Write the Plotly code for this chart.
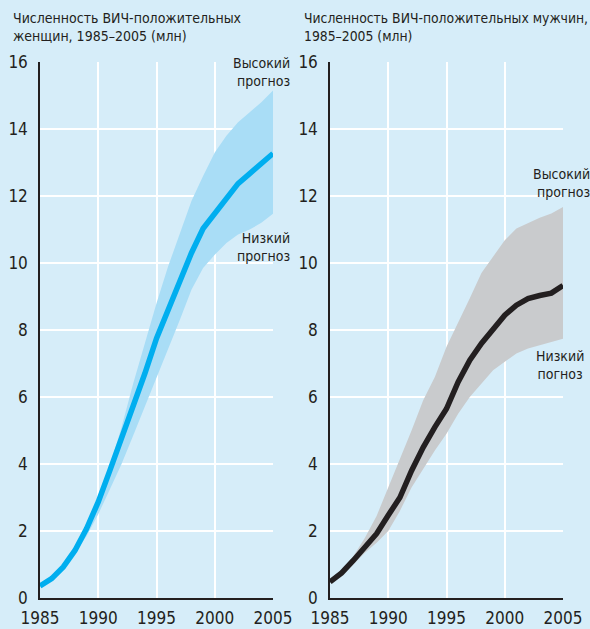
import plotly.graph_objects as go

years = list(range(1985, 2006))

women_mid = [0.36, 0.58, 0.93, 1.42, 2.07, 2.87, 3.81, 4.74, 5.66, 6.7, 7.75,
             8.6, 9.5, 10.3, 11.03, 11.47, 11.93, 12.37, 12.67, 12.97, 13.27]
women_high = [0.4, 0.62, 1.0, 1.55, 2.15, 3.0, 3.95, 5.1, 6.4, 7.6, 8.8,
              9.9, 10.9, 11.85, 12.6, 13.3, 13.8, 14.2, 14.5, 14.8, 15.15]
women_low = [0.34, 0.55, 0.88, 1.32, 1.85, 2.5, 3.25, 4.0, 4.85, 5.7, 6.55,
             7.45, 8.3, 9.2, 9.85, 10.25, 10.6, 10.85, 11.0, 11.2, 11.47]

men_mid = [0.48, 0.75, 1.12, 1.52, 1.92, 2.47, 3.0, 3.8, 4.5, 5.1, 5.65,
           6.45, 7.1, 7.6, 8.05, 8.44, 8.74, 8.94, 9.03, 9.1, 9.33]
men_high = [0.5, 0.82, 1.25, 1.8, 2.45, 3.3, 4.1, 5.0, 5.9, 6.6, 7.5,
            8.2, 8.95, 9.7, 10.2, 10.68, 11.03, 11.2, 11.35, 11.48, 11.67]
men_low = [0.45, 0.68, 1.0, 1.35, 1.65, 2.0, 2.6, 3.3, 3.85, 4.4, 4.9,
           5.5, 6.0, 6.4, 6.8, 7.05, 7.3, 7.45, 7.55, 7.65, 7.74]

x_ticks = [1985, 1990, 1995, 2000, 2005]
y_ticks = [0, 2, 4, 6, 8, 10, 12, 14, 16]

title_women = "Численность ВИЧ-положительных<br>женщин, 1985–2005 (млн)"
title_men = "Численность ВИЧ-положительных мужчин,<br>1985–2005 (млн)"
label_high = "Высокий<br>прогноз"
label_low_w = "Низкий<br>прогноз"
label_low_m = "Низкий<br>погноз"

BG = "#d6edf9"
TXT = "#231f20"
FONT = "DejaVu Sans Condensed, Liberation Sans Narrow, sans-serif"

W, H = 590, 629

fig = go.Figure()

def band(xa, ya, low, high, fillcol):
    fig.add_trace(go.Scatter(x=years, y=low, xaxis=xa, yaxis=ya, mode="lines",
                             line=dict(width=0, color=fillcol), hoverinfo="skip",
                             showlegend=False))
    fig.add_trace(go.Scatter(x=years, y=high, xaxis=xa, yaxis=ya, mode="lines",
                             line=dict(width=0, color=fillcol), fill="tonexty",
                             fillcolor=fillcol, hoverinfo="skip", showlegend=False))

band("x", "y", women_low, women_high, "#a9ddf6")
fig.add_trace(go.Scatter(x=years, y=women_mid, xaxis="x", yaxis="y", mode="lines",
                         line=dict(width=5.5, color="#00aeef"), showlegend=False))
band("x2", "y2", men_low, men_high, "#c9cbcd")
fig.add_trace(go.Scatter(x=years, y=men_mid, xaxis="x2", yaxis="y2", mode="lines",
                         line=dict(width=5.5, color="#231f20"), showlegend=False))

ydom = [(H - 598) / H, (H - 62) / H]
xdom1 = [40 / W, 273 / W]
xdom2 = [330 / W, 563 / W]

xcommon = dict(range=[1985, 2005], tickvals=x_ticks, showgrid=True, gridcolor="white",
               gridwidth=1.5, showline=True, linecolor=TXT, linewidth=1.5, ticks="",
               zeroline=False, tickfont=dict(family=FONT, size=17, color=TXT),
               ticklabelstandoff=4, fixedrange=True, automargin=False)
ycommon = dict(range=[0, 16], tickvals=y_ticks, showgrid=True, gridcolor="white",
               gridwidth=1.5, showline=True, linecolor=TXT, linewidth=1.5, ticks="",
               zeroline=False, tickfont=dict(family=FONT, size=17, color=TXT),
               ticklabelstandoff=7, domain=ydom, fixedrange=True, automargin=False)

fig.update_layout(
    width=W, height=H, autosize=False,
    margin=dict(l=0, r=0, t=0, b=0),
    paper_bgcolor=BG, plot_bgcolor=BG,
    xaxis=dict(domain=xdom1, anchor="y", **xcommon),
    yaxis=dict(anchor="x", **ycommon),
    xaxis2=dict(domain=xdom2, anchor="y2", **xcommon),
    yaxis2=dict(anchor="x2", **ycommon),
    font=dict(family=FONT, color=TXT),
)

def ann(text, xpx, ypx, xanchor, size=14, align="left"):
    fig.add_annotation(text=text, x=xpx / W, y=1 - ypx / H, xref="paper", yref="paper",
                       xanchor=xanchor, yanchor="top", showarrow=False, align=align,
                       font=dict(family=FONT, size=size, color=TXT))

ann(title_women, 11, 8, "left", size=14)
ann(title_men, 302, 8, "left", size=13.8)
ann(label_high, 292, 53, "right", size=14, align="right")
ann(label_low_w, 292, 228, "right", size=14, align="right")
ann(label_high, 592, 164, "right", size=14, align="right")
ann(label_low_m, 560, 346, "center", size=14, align="center")

fig.write_html("out.html", config={"displayModeBar": False},
               post_script="document.body.style.margin='0';document.body.style.background='%s';" % BG)
